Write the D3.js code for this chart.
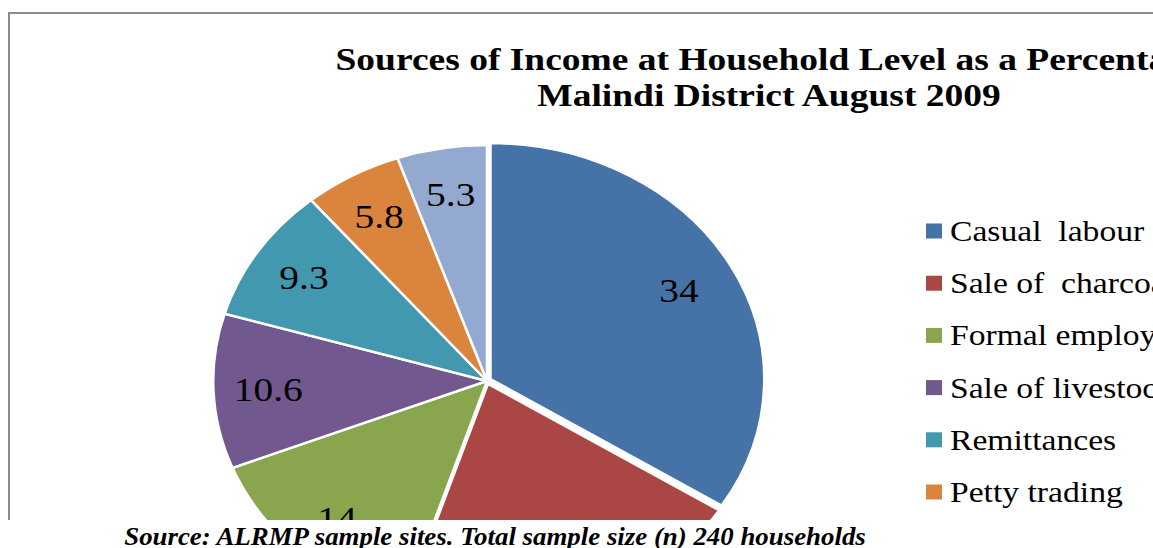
<!DOCTYPE html>
<html>
<head>
<meta charset="utf-8">
<script src="https://cdn.jsdelivr.net/npm/d3@7"></script>
<style>
  body { margin: 0; background: #fff; overflow: hidden; }
  text { font-family: "Liberation Serif", "Times New Roman", Times, serif; }
</style>
</head>
<body>
<div id="chart"></div>
<script>
// data
const categories = ["Casual  labour", "Sale of  charcoal", "Formal employment", "Sale of livestock", "Remittances", "Petty trading", "Others"];
const values = [34, 21, 14, 10.6, 9.3, 5.8, 5.3];
const colors = ["#4572A7", "#AA4643", "#89A54E", "#71588F", "#4198AF", "#DB843D", "#93A9CF"];
const exploded = [4, 3, 0, 0, 0, 0, 0];
const titleLines = ["Sources of Income at Household Level as a Percentage", "Malindi District August 2009"];
const sourceText = "Source: ALRMP sample sites. Total sample size (n) 240 households";

const width = 1153, height = 548;
const frameBottom = 520;
// the original picture is stretched sideways, so text and pie get a horizontal scale
const sx = 1.16;

const svg = d3.select("#chart").append("svg")
    .attr("width", width)
    .attr("height", height);

svg.append("defs").append("clipPath")
    .attr("id", "frame-clip")
  .append("rect")
    .attr("x", 0).attr("y", 0)
    .attr("width", width).attr("height", frameBottom);

const chart = svg.append("g").attr("clip-path", "url(#frame-clip)");

// frame (only top and left edges are in view)
chart.append("path")
    .attr("d", `M9,${frameBottom} V13 H${width}`)
    .attr("fill", "none")
    .attr("stroke", "#8c8c8c")
    .attr("stroke-width", 2);

// title
chart.append("g")
    .selectAll("text")
    .data(titleLines)
    .join("text")
    .attr("transform", (d, i) => `translate(769,${70 + i * 36}) scale(1.21,1)`)
    .attr("text-anchor", "middle")
    .attr("font-size", 31)
    .attr("font-weight", "bold")
    .text(d => d);

// pie, drawn as an ellipse like the stretched original
const cx = 487, cy = 381, ry = 236;

const pie = d3.pie().sort(null).value(d => d);
const arcs = pie(values);

const arc = d3.arc().innerRadius(0).outerRadius(ry);
const labelArc = d3.arc().innerRadius(ry * 0.8).outerRadius(ry * 0.8);

const pieG = chart.append("g")
    .attr("transform", `translate(${cx},${cy}) scale(${sx},1)`);

pieG.selectAll("path")
    .data(arcs)
    .join("path")
    .attr("d", arc)
    .attr("transform", (d, i) => {
        const mid = (d.startAngle + d.endAngle) / 2;
        const off = exploded[i];
        return `translate(${Math.sin(mid) * off / sx},${-Math.cos(mid) * off})`;
    })
    .attr("fill", (d, i) => colors[i])
    .attr("stroke", "white")
    .attr("stroke-width", 2.5)
    .attr("vector-effect", "non-scaling-stroke");

chart.append("g")
    .selectAll("text")
    .data(arcs)
    .join("text")
    .attr("transform", d => {
        const [x, y] = labelArc.centroid(d);
        return `translate(${cx + x * sx},${cy + y}) scale(${sx},1)`;
    })
    .attr("text-anchor", "middle")
    .attr("dominant-baseline", "central")
    .attr("font-size", 34)
    .attr("fill", "#000")
    .text(d => String(d.data));

// legend
const legend = chart.append("g")
    .selectAll("g")
    .data(categories)
    .join("g")
    .attr("transform", (d, i) => `translate(926,${231 + i * 52.2})`);

legend.append("rect")
    .attr("x", 0)
    .attr("y", -7.5)
    .attr("width", 16)
    .attr("height", 15)
    .attr("fill", (d, i) => colors[i]);

legend.append("text")
    .attr("transform", `translate(24,10) scale(${sx},1)`)
    .attr("font-size", 29)
    .attr("xml:space", "preserve")
    .style("white-space", "pre")
    .text(d => d);

// source note under the chart
svg.append("text")
    .attr("transform", "translate(495,545) scale(1.075,1)")
    .attr("text-anchor", "middle")
    .attr("font-size", 25)
    .attr("font-weight", "bold")
    .attr("font-style", "italic")
    .text(sourceText);
</script>
</body>
</html>
